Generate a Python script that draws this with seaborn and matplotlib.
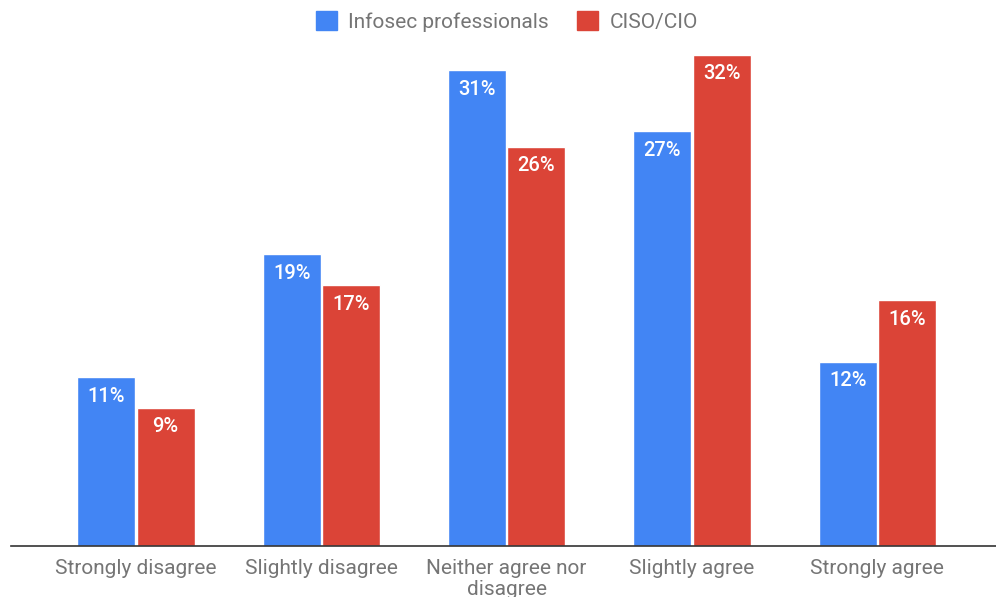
import matplotlib
matplotlib.use("Agg")
import matplotlib.pyplot as plt
import seaborn as sns
import pandas as pd

categories = ["Strongly disagree", "Slightly disagree", "Neither agree nor\ndisagree",
              "Slightly agree", "Strongly agree"]
series_names = ["Infosec professionals", "CISO/CIO"]
infosec = [11, 19, 31, 27, 12]
ciso = [9, 17, 26, 32, 16]
colors = ["#4285F4", "#DB4437"]

df = pd.DataFrame({
    "category": categories * 2,
    "series": [series_names[0]] * len(categories) + [series_names[1]] * len(categories),
    "value": infosec + ciso,
})

sns.set_theme(style="white")
plt.rcParams["font.family"] = ["Roboto", "DejaVu Sans"]

fig = plt.figure(figsize=(9.96, 5.97), dpi=100)
ax = fig.add_axes([11 / 996, 51 / 597, 985 / 996, 546 / 597])

sns.barplot(data=df, x="category", y="value", hue="series", order=categories,
            hue_order=series_names, palette=colors, width=0.64, gap=0.025,
            saturation=1, ax=ax, legend=False)

for container in ax.containers:
    for bar in container:
        h = bar.get_height()
        ax.annotate(f"{h:.0f}%", (bar.get_x() + bar.get_width() / 2, h),
                    xytext=(0, -7), textcoords="offset points",
                    ha="center", va="top", color="white", fontsize=14.5,
                    fontweight="medium")

ax.set_xlim(-0.674, 4.64)
ax.set_ylim(0, 35.55)
ax.set_xlabel("")
ax.set_ylabel("")
ax.set_yticks([])
for side in ["top", "right", "left"]:
    ax.spines[side].set_visible(False)
ax.spines["bottom"].set_color("#333333")
ax.spines["bottom"].set_linewidth(1.2)
ax.tick_params(axis="x", length=0, pad=9, labelsize=15, labelcolor="#757575")
for lbl in ax.get_xticklabels():
    lbl.set_linespacing(1.15)

handles = [plt.Rectangle((0, 0), 1, 1, color=c) for c in colors]
fig.legend(handles, series_names, loc="upper center", bbox_to_anchor=(0.509, 1.0),
           ncol=2, frameon=False, fontsize=15, labelcolor="#757575",
           handlelength=1.0, handleheight=1.0, handletextpad=0.55, columnspacing=1.35,
           borderaxespad=0.15)

fig.savefig("out.png", dpi=100)
